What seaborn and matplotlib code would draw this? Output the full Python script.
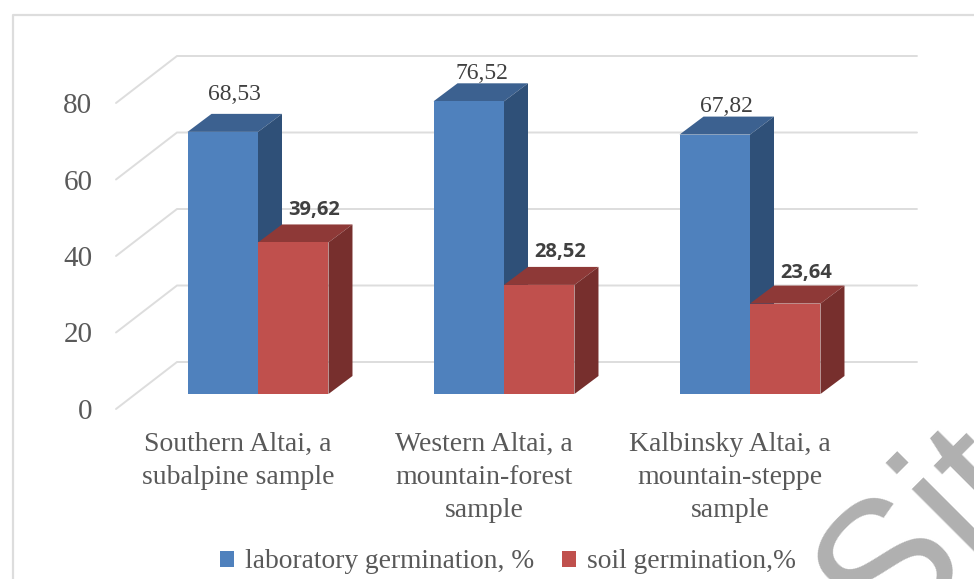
import numpy as np
import pandas as pd
import matplotlib
matplotlib.use("Agg")
import matplotlib.pyplot as plt
from matplotlib.patches import Polygon
from matplotlib.lines import Line2D
import seaborn as sns

categories = ["Southern Altai, a\nsubalpine sample",
              "Western Altai, a\nmountain-forest\nsample",
              "Kalbinsky Altai, a\nmountain-steppe\nsample"]
series_names = ["laboratory germination, %", "soil germination,%"]
laboratory = [68.53, 76.52, 67.82]
soil = [39.62, 28.52, 23.64]
laboratory_labels = ["68,53", "76,52", "67,82"]
soil_labels = ["39,62", "28,52", "23,64"]
y_ticks = [0, 20, 40, 60, 80]

W, H = 974, 579
sns.set_theme(style="white")
plt.rcParams["font.family"] = ["Liberation Serif", "DejaVu Sans"]

df = pd.DataFrame({
    "cat": categories * 2,
    "series": [series_names[0]] * 3 + [series_names[1]] * 3,
    "value": laboratory + soil,
})

fig = plt.figure(figsize=(W / 100, H / 100), dpi=100, facecolor="white")
# axes cover the plot box in pixels: x 116..917, y 56..409
ax = fig.add_axes([116 / W, 1 - 409 / H, (917 - 116) / W, (409 - 56) / H])
ax.patch.set_alpha(0)

front = ("#4F81BD", "#C0504D")
top = ("#3C6190", "#8E3937")
side = ("#2F5078", "#772F2D")

sns.barplot(data=df, x="cat", y="value", hue="series", hue_order=series_names,
            palette=list(front), width=0.573, saturation=1, linewidth=0,
            errorbar=None, ax=ax, zorder=3)

PX_X = 246.0     # pixels per category
PX_Y = 3.825     # pixels per value unit
x0 = -258 / PX_X + 116 / PX_X
ax.set_xlim(x0, x0 + (917 - 116) / PX_X)
ax.set_ylim(-15 / PX_Y, 338 / PX_Y)

# oblique depth of the bars and of the floor/wall
bar_dx, bar_dy = 24 / PX_X, 18 / PX_Y
wall_dx, wall_dy = 61 / PX_X, 47 / PX_Y
floor = -15 / PX_Y
xl = ax.get_xlim()

grid_c = "#DDDDDD"
for t in y_ticks:
    y = t + floor
    ax.plot([xl[0], xl[0] + wall_dx, xl[1]], [y, y + wall_dy, y + wall_dy],
            color=grid_c, lw=1.4, zorder=1, clip_on=False, solid_joinstyle="miter")

for s, cont in enumerate(ax.containers):
    for b in cont:
        x1, x2 = b.get_x(), b.get_x() + b.get_width()
        h = b.get_height()
        ax.add_patch(Polygon([(x1, h), (x2, h), (x2 + bar_dx, h + bar_dy), (x1 + bar_dx, h + bar_dy)],
                             closed=True, fc=top[s], ec="none", zorder=3 + s, clip_on=False))
        ax.add_patch(Polygon([(x2, 0), (x2 + bar_dx, bar_dy), (x2 + bar_dx, h + bar_dy), (x2, h)],
                             closed=True, fc=side[s], ec="none", zorder=3 + s, clip_on=False))
        b.set_zorder(3.5 + s)

# value labels, shifted by pixels from the bar's top-front edge
lab_shift = [(12, 37), (13, 28), (12, 28)]
soil_shift = [(21, 32), (21, 33), (21, 31)]
for b, txt, sh in zip(ax.containers[0], laboratory_labels, lab_shift):
    ax.annotate(txt, (b.get_x() + b.get_width() / 2, b.get_height()),
                xytext=(sh[0] * 0.72, sh[1] * 0.72), textcoords="offset points",
                ha="center", va="center", fontsize=17, color="#404040", zorder=6)
for b, txt, sh in zip(ax.containers[1], soil_labels, soil_shift):
    ax.annotate(txt, (b.get_x() + b.get_width() / 2, b.get_height()),
                xytext=(sh[0] * 0.72, sh[1] * 0.72), textcoords="offset points",
                ha="center", va="center", fontsize=14.5, color="#404040",
                fontweight="bold", family="Open Sans", zorder=6)

sns.despine(ax=ax, left=True, bottom=True, top=True, right=True)
ax.set_xlabel("")
ax.set_ylabel("")
ax.set_yticks([t + floor for t in y_ticks])
ax.set_yticklabels([str(t) for t in y_ticks])
ax.set_xticks([i - 20 / PX_X for i in range(len(categories))])
ax.set_xticklabels(categories)
ax.tick_params(axis="y", length=0, pad=17, labelsize=21, labelcolor="#595959")
ax.tick_params(axis="x", length=0, pad=16.5, labelsize=20, labelcolor="#595959")
for lb in ax.get_xticklabels():
    lb.set_linespacing(1.42)

handles, labels = ax.get_legend_handles_labels()
ax.legend(handles, labels, loc="center", bbox_to_anchor=(508 / W, 1 - 562 / H),
          bbox_transform=fig.transFigure, ncols=2, frameon=False, fontsize=19.8,
          labelcolor="#595959", handlelength=0.5, handleheight=0.5,
          handletextpad=0.4, columnspacing=1.0, borderpad=0, borderaxespad=0)

# chart frame, running off the image on the right and bottom
fig.add_artist(Line2D([13 / W, 13 / W, 1], [0, 1 - 15 / H, 1 - 15 / H],
                      color="#DDDDDD", lw=1.6, transform=fig.transFigure))

# watermark fragment
fig.text(926 / W, 1 - 538 / H, "Sit", rotation=45, rotation_mode="anchor", ha="center", va="center",
         fontsize=135, color="#B0B0B0", family="Liberation Sans", zorder=0)

fig.savefig("out.png", dpi=100)
